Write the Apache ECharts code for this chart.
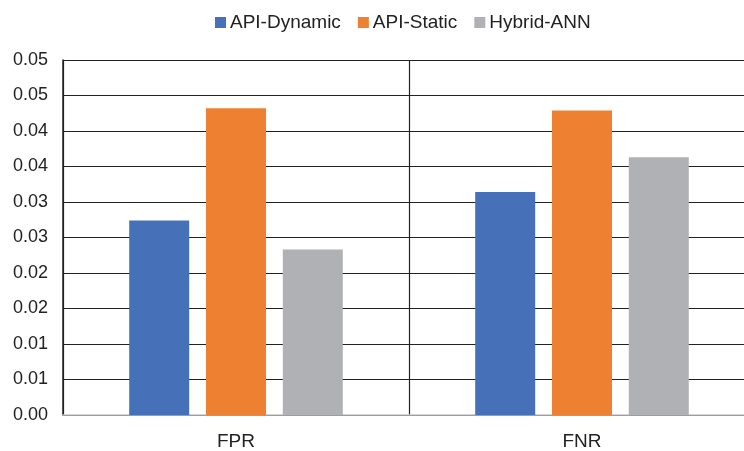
<!DOCTYPE html>
<html><head><meta charset="utf-8">
<script src="https://cdn.jsdelivr.net/npm/echarts@6/dist/echarts.min.js"></script>
<style>html,body{margin:0;padding:0;background:#fff;overflow:hidden}#c{width:756px;height:451px}</style>
</head><body><div id="c"></div>
<script>
const categories = ['FPR', 'FNR'];
const seriesNames = ['API-Dynamic', 'API-Static', 'Hybrid-ANN'];
const apiDynamic = [0.0274, 0.0314];
const apiStatic = [0.0432, 0.0429];
const hybridAnn = [0.0233, 0.0363];
const yTickLabels = ['0.00','0.01','0.01','0.02','0.02','0.03','0.03','0.04','0.04','0.05','0.05'];
const colors = ['#4670B7', '#EE8032', '#B0B1B4'];

const chart = echarts.init(document.getElementById('c'), null, {renderer: 'canvas'});
const font = 'Liberation Sans, Arial, sans-serif';
chart.setOption({
  animation: false,
  color: colors,
  legend: {
    top: 8, left: 210, icon: 'rect', itemWidth: 11, itemHeight: 11, itemGap: 17,
    textStyle: {fontFamily: font, fontSize: 19, color: '#222', padding: [0,0,0,-1]},
    data: seriesNames
  },
  grid: {left: 63, top: 60, right: 1, height: 355, containLabel: false},
  xAxis: {
    type: 'category', data: categories,
    axisLine: {lineStyle: {color: '#c8c8c8', width: 1.5}},
    axisTick: {show: false},
    splitLine: {show: true, interval: 0, lineStyle: {color: '#222', width: 1.2}},
    axisLabel: {fontFamily: font, fontSize: 19, color: '#222', margin: 17}
  },
  yAxis: {
    type: 'value', min: 0, max: 0.05, interval: 0.005,
    axisLine: {show: true, lineStyle: {color: '#222', width: 1.5}},
    axisTick: {show: false},
    splitLine: {lineStyle: {color: '#222', width: 1.2}},
    axisLabel: {
      fontFamily: font, fontSize: 18, color: '#222', margin: 15,
      formatter: function (v) { return yTickLabels[Math.round(v / 0.005)]; }
    }
  },
  series: [
    {name: seriesNames[0], type: 'bar', data: apiDynamic, barWidth: 60, barGap: '28%'},
    {name: seriesNames[1], type: 'bar', data: apiStatic, barWidth: 60, barGap: '28%'},
    {name: seriesNames[2], type: 'bar', data: hybridAnn, barWidth: 60, barGap: '28%'}
  ]
});
</script></body></html>
